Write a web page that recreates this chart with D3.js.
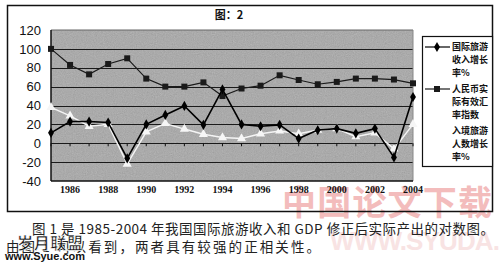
<!DOCTYPE html>
<html><head><meta charset="utf-8">
<script src="https://cdn.jsdelivr.net/npm/d3@7"></script>
<style>body{margin:0;background:#fff}svg{display:block}</style>
</head><body>
<svg id="c" width="500" height="268"></svg>
<script>
const years = d3.range(1985, 2005);
const tickYears = [1986,1988,1990,1992,1994,1996,1998,2000,2002,2004];
const yTicks = [-40,-20,0,20,40,60,80,100,120];
const incomeGrowth = [11,23,23,22,-16,20,30,39.5,19.5,57,20,18,19.5,5,14,15.5,10.5,15.5,-15,49];
const rmbIndex = [100,83,73,84,90,68.5,60,60,64.5,50,58,61,72,67,62.5,65,68.5,68.5,67.5,63.5];
const arrivalGrowth = [38,29,18,20,-22,12,21,15,9.5,6,5,10,13,10,14,15.5,7,11,-6,20];
const seriesNames = [["国际旅游","收入增长","率%"],["人民币实","际有效汇","率指数"],["入境旅游","人数增长","率%"]];
const titleText = "图：2";
const caption1 = "图 1 是 1985-2004 年我国国际旅游收入和 GDP 修正后实际产出的对数图。";
const caption2 = "由图 1 可以看到，两者具有较强的正相关性。";

const svg = d3.select("#c");
const x = d3.scalePoint().domain(years).range([51, 413]);
const y = d3.scaleLinear().domain([-40, 120]).range([181, 30]);

// red watermark behind
svg.append("text").attr("x", 282).attr("y", 215).attr("font-family","Noto Sans CJK SC")
  .attr("font-weight","bold").attr("font-size",34).attr("fill","#f3bcbc")
  .attr("textLength",210).attr("lengthAdjust","spacing").text("中国论文下载");
svg.append("text").attr("x", 330).attr("y", 250).attr("font-family","Liberation Sans")
  .attr("font-weight","bold").attr("font-size",26).attr("fill","#f8e3e3")
  .attr("textLength",170).attr("lengthAdjust","spacing").text("WWW.SYUDA.");

// outer frame
svg.append("rect").attr("x",7.5).attr("y",5.5).attr("width",485).attr("height",206)
  .attr("fill","none").attr("stroke","#111").attr("stroke-width",1.5);

// title
svg.append("text").attr("x",229).attr("y",19).attr("text-anchor","middle")
  .attr("font-family","Noto Sans CJK SC").attr("font-weight","bold").attr("font-size",11).attr("fill","#111").text(titleText);

// texture
const defs = svg.append("defs");
const f = defs.append("filter").attr("id","noise").attr("x",0).attr("y",0).attr("width","100%").attr("height","100%");
f.append("feTurbulence").attr("type","fractalNoise").attr("baseFrequency",0.9).attr("numOctaves",2).attr("seed",3).attr("result","n");
f.append("feColorMatrix").attr("in","n").attr("type","matrix")
  .attr("values","0 0 0 0 0.66  0 0 0 0 0.66  0 0 0 0 0.66  0.35 0.35 0.35 0 -0.2").attr("result","m");
f.append("feComposite").attr("in","m").attr("in2","SourceGraphic").attr("operator","over");

svg.append("rect").attr("x",x(1985)).attr("y",y(120)).attr("width",x(2004)-x(1985)).attr("height",y(-40)-y(120))
  .attr("fill","#b0b0b0");
svg.append("rect").attr("x",x(1985)).attr("y",y(120)).attr("width",x(2004)-x(1985)).attr("height",y(-40)-y(120))
  .attr("fill","#888").attr("filter","url(#noise)").attr("opacity",0.5);

// gridlines
svg.append("g").selectAll("line").data(yTicks.filter(v=>v>-40 && v<120)).join("line")
  .attr("x1",x(1985)).attr("x2",x(2004)).attr("y1",d=>Math.round(y(d))+0.5).attr("y2",d=>Math.round(y(d))+0.5)
  .attr("stroke","#1a1a1a").attr("stroke-width",1.2);
svg.append("line").attr("x1",x(1985)).attr("x2",x(2004)).attr("y1",y(120)).attr("y2",y(120)).attr("stroke","#666");
svg.append("line").attr("x1",x(2004)).attr("x2",x(2004)).attr("y1",y(120)).attr("y2",y(-40)).attr("stroke","#888");
svg.append("line").attr("x1",x(1985)).attr("x2",x(1985)).attr("y1",y(120)).attr("y2",y(-40)).attr("stroke","#111").attr("stroke-width",1.5);
svg.append("line").attr("x1",x(1985)).attr("x2",x(2004)).attr("y1",y(-40)).attr("y2",y(-40)).attr("stroke","#111").attr("stroke-width",1.5);
// ticks on zero line
svg.append("g").selectAll("line").data(years).join("line")
  .attr("x1",d=>x(d)).attr("x2",d=>x(d)).attr("y1",y(0)).attr("y2",y(0)+3).attr("stroke","#111");

// y axis labels
svg.append("g").selectAll("text").data(yTicks).join("text")
  .attr("x",41).attr("y",d=>y(d)).attr("dy","0.36em").attr("text-anchor","end")
  .attr("font-family","Liberation Sans").attr("font-size",13).attr("fill","#111").text(d=>d);
// x axis labels
svg.append("g").selectAll("text").data(tickYears).join("text")
  .attr("x",d=>x(d)).attr("y",193).attr("text-anchor","middle")
  .attr("font-family","Liberation Serif").attr("font-weight","bold").attr("font-size",10).attr("fill","#111").text(d=>d);

const line = d3.line().x((d,i)=>x(years[i])).y(d=>y(d));
const diamond = d3.symbol().type(d3.symbolDiamond).size(30);
const square = d3.symbol().type(d3.symbolSquare).size(36);
const tri = d3.symbol().type(d3.symbolTriangle).size(36);

// series 3 white
svg.append("path").attr("d",line(arrivalGrowth)).attr("fill","none").attr("stroke","#f4f4f4").attr("stroke-width",1.5);
svg.append("g").selectAll("path").data(arrivalGrowth).join("path")
  .attr("transform",(d,i)=>`translate(${x(years[i])},${y(d)})`).attr("d",tri).attr("fill","#f6f6f6");
// series 2 squares
svg.append("path").attr("d",line(rmbIndex)).attr("fill","none").attr("stroke","#1a1a1a").attr("stroke-width",1.2);
svg.append("g").selectAll("path").data(rmbIndex).join("path")
  .attr("transform",(d,i)=>`translate(${x(years[i])},${y(d)})`).attr("d",square).attr("fill","#1a1a1a");
// series 1 diamonds
svg.append("path").attr("d",line(incomeGrowth)).attr("fill","none").attr("stroke","#000").attr("stroke-width",1.6);
svg.append("g").selectAll("path").data(incomeGrowth).join("path")
  .attr("transform",(d,i)=>`translate(${x(years[i])},${y(d)})`).attr("d",diamond).attr("fill","#000");

// legend
svg.append("rect").attr("x",422.5).attr("y",36.5).attr("width",70).attr("height",130)
  .attr("fill","#fff").attr("stroke","#111").attr("stroke-width",1.2);
const lg = svg.append("g");
const legStyles = [
  {stroke:"#000", sym:diamond, fill:"#000"},
  {stroke:"#1a1a1a", sym:square, fill:"#1a1a1a"},
  {stroke:"#fff", sym:tri, fill:"#fff"}];
seriesNames.forEach((lines, k) => {
  const y0 = 47 + k*42;
  lg.append("line").attr("x1",425).attr("x2",450).attr("y1",y0).attr("y2",y0).attr("stroke",legStyles[k].stroke).attr("stroke-width",1.2);
  lg.append("path").attr("transform",`translate(437,${y0})`).attr("d",legStyles[k].sym).attr("fill",legStyles[k].fill);
  lines.forEach((t,j)=>{
    lg.append("text").attr("x",452).attr("y",y0+j*13).attr("dy","0.36em")
      .attr("font-family","Noto Sans CJK SC").attr("font-weight","bold").attr("font-size",9).attr("fill","#111").text(t);
  });
});

// captions
svg.append("text").attr("x",32).attr("y",234).attr("font-family","Noto Sans CJK SC").attr("font-size",13.5)
  .attr("fill","#222").attr("textLength",462).attr("lengthAdjust","spacing").text(caption1);
svg.append("text").attr("x",6).attr("y",252).attr("font-family","Noto Sans CJK SC").attr("font-size",13.5)
  .attr("fill","#222").attr("textLength",314).attr("lengthAdjust","spacing").text(caption2);

// site watermark
svg.append("text").attr("x",17).attr("y",249).attr("font-family","Noto Sans CJK SC").attr("font-weight","bold")
  .attr("font-size",16).attr("fill","#111").attr("stroke","#fff").attr("stroke-width",0.6)
  .attr("textLength",66).attr("lengthAdjust","spacing").text("岁月联盟");
svg.append("text").attr("x",5).attr("y",260).attr("font-family","Liberation Sans").attr("font-weight","bold")
  .attr("font-size",11).attr("fill","#111").attr("stroke","#fff").attr("stroke-width",0.5).attr("paint-order","stroke")
  .attr("textLength",80).attr("lengthAdjust","spacing").text("www.Syue.com");
</script>
</body></html>
